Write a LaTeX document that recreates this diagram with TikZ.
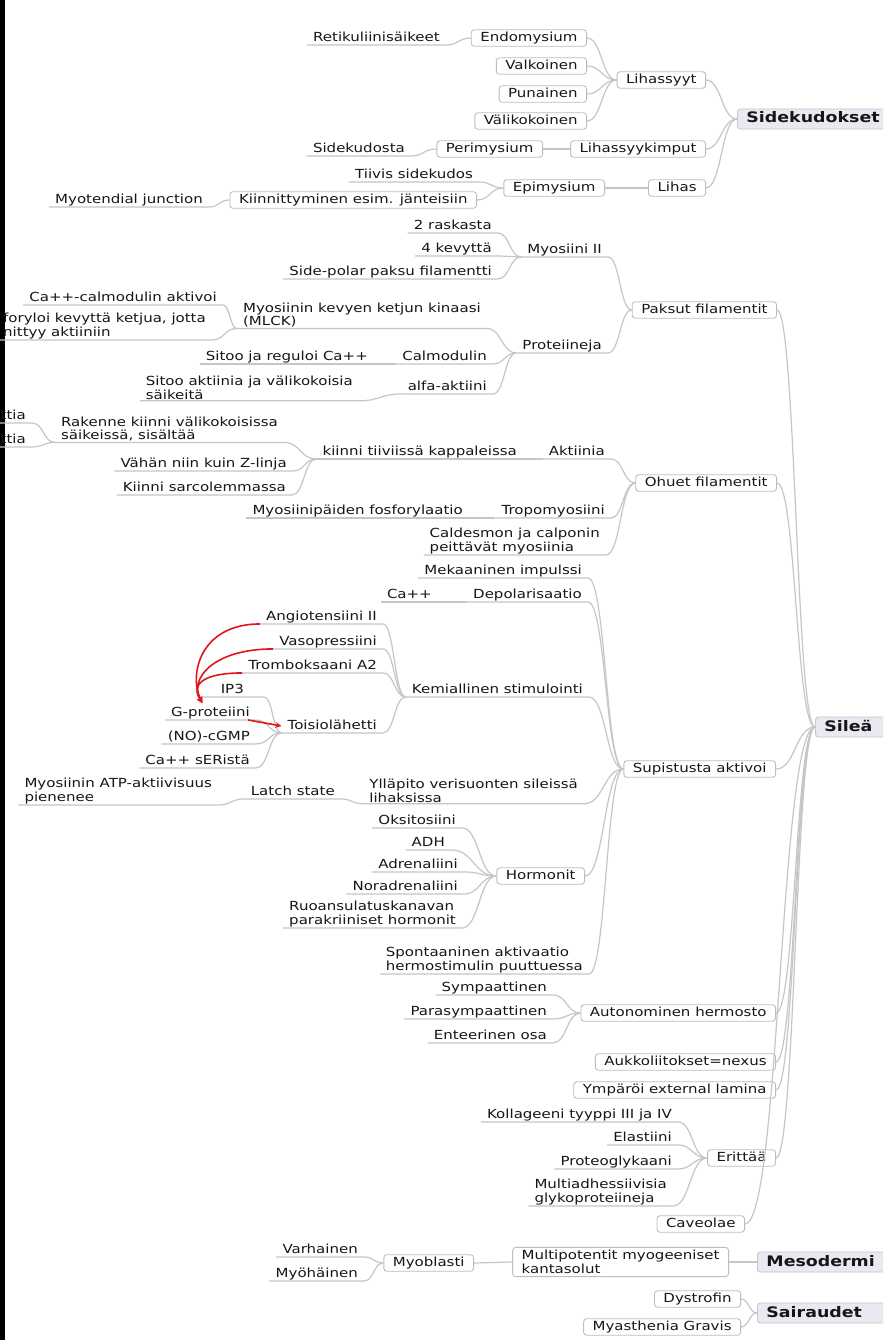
\documentclass[tikz,border=0pt]{standalone}
\usepackage{fontspec}
\setmainfont{DejaVu Sans}[FakeStretch=1.2]
\usepackage{tikz}
\usetikzlibrary{calc}
\definecolor{mmLine}{HTML}{C6C6C6}
\definecolor{mmBorder}{HTML}{BDBDBD}
\definecolor{mmText}{HTML}{161616}
\definecolor{mmRootFill}{HTML}{E9E9F1}
\definecolor{mmRootBorder}{HTML}{C6C6D0}
\definecolor{mmRed}{HTML}{E3141B}
\newcommand{\mmfont}{\fontsize{12.5pt}{13.5pt}\selectfont}
\newcommand{\rootfont}{\fontsize{14.5pt}{15pt}\selectfont\bfseries}
\tikzset{
  mmline/.style={draw=mmLine, line width=1.2pt},
  mmcurve/.style={to path={let \p1=(\tikztostart), \p2=(\tikztotarget) in
      .. controls ({(\x1+\x2)/2},\y1) and ({(\x1+\x2)/2},\y2) .. (\tikztotarget)}},
  mmleaf/.style={font=\mmfont, text=mmText, anchor=east, inner xsep=6pt, inner ysep=1pt,
      text height=9pt, text depth=2.5pt},
  mmleaftwo/.style={font=\mmfont, text=mmText, anchor=east, inner xsep=6pt, inner ysep=1pt, align=left},
  mmbox/.style={mmleaf, draw=mmBorder, fill=white, rounded corners=3pt, line width=0.9pt,
      inner xsep=9pt, inner ysep=2.5pt},
  mmboxtwo/.style={mmleaftwo, draw=mmBorder, fill=white, rounded corners=3pt, line width=0.9pt,
      inner xsep=9pt, inner ysep=3pt},
  mmroot/.style={draw=mmRootBorder, fill=mmRootFill, rounded corners=3pt, line width=0.9pt,
      font=\rootfont, text=mmText, anchor=west, inner xsep=9pt, inner ysep=3pt,
      text height=11pt, text depth=3pt, text width=150pt, align=left},
  redarrow/.style={->, draw=mmRed, line width=1.6pt}
}
\begin{document}
\begin{tikzpicture}[x=1pt, y=-1pt, >=stealth]
  \useasboundingbox (0,0) rectangle (883,1340);
  \clip (0,0) rectangle (883,1340);
  \fill[white] (0,0) rectangle (883,1340);
  \fill[black] (0,0) rectangle (5,1340);
  % ---------- Sidekudokset ----------
  \node[mmroot] (sidek) at (737,119) {Sidekudokset};
  \node[mmbox] (lsyyt) at (706,80) {Lihassyyt};
  \node[mmbox] (endo) at (587,38) {Endomysium};
  \node[mmbox] (valk) at (587,66) {Valkoinen};
  \node[mmbox] (puna) at (587,94) {Punainen};
  \node[mmbox] (vali) at (587,121) {Välikokoinen};
  \node[mmleaf] (retik) at (446,38) {Retikuliinisäikeet};
  \node[mmbox] (kimput) at (706,149) {Lihassyykimput};
  \node[mmbox] (peri) at (543,149) {Perimysium};
  \node[mmleaf] (sidkto) at (411,149) {Sidekudosta};
  \node[mmbox] (lihas) at (706,188) {Lihas};
  \node[mmbox] (epi) at (605,188) {Epimysium};
  \node[mmleaf] (tiivis) at (479,175) {Tiivis sidekudos};
  \node[mmbox] (kiinn) at (477,200) {Kiinnittyminen esim. jänteisiin};
  \node[mmleaf] (myoten) at (209,200) {Myotendial junction};
  \draw[mmline] (retik.south west) -- (retik.south east) to[mmcurve] (endo.west);
  \foreach \c in {endo,valk,puna,vali}
    \draw[mmline] (\c.east) to[mmcurve] (lsyyt.west);
  \foreach \c in {lsyyt,kimput,lihas}
    \draw[mmline] (\c.east) to[mmcurve] (sidek.west);
  \draw[mmline] (sidkto.south west) -- (sidkto.south east) to[mmcurve] (peri.west);
  \draw[mmline] (peri.east) to[mmcurve] (kimput.west);
  \draw[mmline] (tiivis.south west) -- (tiivis.south east) to[mmcurve] (epi.west);
  \draw[mmline] (kiinn.east) to[mmcurve] (epi.west);
  \draw[mmline] (myoten.south west) -- (myoten.south east) to[mmcurve] (kiinn.west);
  \draw[mmline] (epi.east) to[mmcurve] (lihas.west);

  % ---------- Sileä: paksut filamentit ----------
  \node[mmroot] (silea) at (815,727) {Sileä};
  \node[mmbox] (paksut) at (777,310) {Paksut filamentit};
  \node[mmleaf] (myo2) at (608,250) {Myosiini II};
  \node[mmleaf] (rask) at (498,226) {2 raskasta};
  \node[mmleaf] (kevyt) at (498,249) {4 kevyttä};
  \node[mmleaf] (sidepol) at (498,272) {Side-polar paksu filamentti};
  \node[mmleaf] (prot) at (608,346) {Proteiineja};
  \node[mmleaftwo] (mlck) at (487,315) {Myosiinin kevyen ketjun kinaasi\\(MLCK)};
  \node[mmleaf] (cacalm) at (223,298) {Ca++-calmodulin aktivoi};
  \node[mmleaftwo, anchor=west] (fosfor) at (-3,326) {foryloi kevyttä ketjua, jotta\\nittyy aktiiniin};
  \node[mmleaf] (calm) at (493,357) {Calmodulin};
  \node[mmleaf] (sitca) at (374,357) {Sitoo ja reguloi Ca++};
  \node[mmleaf] (alfa) at (493,387) {alfa-aktiini};
  \node[mmleaftwo] (sitakt) at (359,388) {Sitoo aktiinia ja välikokoisia\\säikeitä};
  \foreach \c in {myo2,prot}
    \draw[mmline] (\c.south west) -- (\c.south east) to[mmcurve] (paksut.west);
  \foreach \c in {rask,kevyt,sidepol}
    \draw[mmline] (\c.south west) -- (\c.south east) to[mmcurve] (myo2.south west);
  \foreach \c in {mlck,calm,alfa}
    \draw[mmline] (\c.south west) -- (\c.south east) to[mmcurve] (prot.south west);
  \foreach \c in {cacalm,fosfor}
    \draw[mmline] (\c.south west) -- (\c.south east) to[mmcurve] (mlck.south west);
  \draw[mmline] (sitca.south west) -- (sitca.south east) to[mmcurve] (calm.south west);
  \draw[mmline] (sitakt.south west) -- (sitakt.south east) to[mmcurve] (alfa.south west);

  % ---------- ohuet filamentit ----------
  \node[mmbox] (ohuet) at (777,483) {Ohuet filamentit};
  \node[mmleaf] (aktiin) at (611,452) {Aktiinia};
  \node[mmleaf] (kiinni) at (523,452) {kiinni tiiviissä kappaleissa};
  \node[mmleaftwo] (raken) at (284,429) {Rakenne kiinni välikokoisissa\\säikeissä, sisältää};
  \node[mmleaf] (ttiaA) at (32,416) {ttia};
  \node[mmleaf] (ttiaB) at (32,440) {ttia};
  \node[mmleaf] (zlinja) at (293,464) {Vähän niin kuin Z-linja};
  \node[mmleaf] (sarco) at (292,488) {Kiinni sarcolemmassa};
  \node[mmleaf] (tropo) at (611,511) {Tropomyosiini};
  \node[mmleaf] (fosfo) at (469,511) {Myosiinipäiden fosforylaatio};
  \node[mmleaftwo] (caldes) at (606,541) {Caldesmon ja calponin\\peittävät myosiinia};
  \foreach \c in {aktiin,tropo,caldes}
    \draw[mmline] (\c.south west) -- (\c.south east) to[mmcurve] (ohuet.west);
  \draw[mmline] (kiinni.south west) -- (kiinni.south east) to[mmcurve] (aktiin.south west);
  \foreach \c in {raken,zlinja,sarco}
    \draw[mmline] (\c.south west) -- (\c.south east) to[mmcurve] (kiinni.south west);
  \foreach \c in {ttiaA,ttiaB}
    \draw[mmline] (\c.south west) -- (\c.south east) to[mmcurve] (raken.south west);
  \draw[mmline] (fosfo.south west) -- (fosfo.south east) to[mmcurve] (tropo.south west);

  % ---------- supistusta aktivoi ----------
  \node[mmbox] (supist) at (776,769) {Supistusta aktivoi};
  \node[mmleaf] (mekaan) at (588,571) {Mekaaninen impulssi};
  \node[mmleaf] (depol) at (588,595) {Depolarisaatio};
  \node[mmleaf] (capp) at (438,595) {Ca++};
  \node[mmleaf] (kemial) at (589,690) {Kemiallinen stimulointi};
  \node[mmleaf] (angio) at (383,617) {Angiotensiini II};
  \node[mmleaf] (vaso) at (383,642) {Vasopressiini};
  \node[mmleaf] (tromb) at (383,666) {Tromboksaani A2};
  \node[mmleaf] (toisio) at (383,726) {Toisiolähetti};
  \node[mmleaf, minimum width=63pt] (ip3) at (264,690) {IP3};
  \node[mmleaf] (gprot) at (256,713) {G-proteiini};
  \node[mmleaf] (nocg) at (256,737) {(NO)-cGMP};
  \node[mmleaf] (caser) at (256,761) {Ca++ sERistä};
  \node[mmleaftwo] (yllap) at (584,791) {Ylläpito verisuonten sileissä\\lihaksissa};
  \node[mmleaf] (latch) at (341,792) {Latch state};
  \node[mmleaftwo] (atpakt) at (218,791) {Myosiinin ATP-aktiivisuus\\pienenee};
  \node[mmbox] (hormon) at (585,876) {Hormonit};
  \node[mmleaf] (oksit) at (462,821) {Oksitosiini};
  \node[mmleaf] (adh) at (451,843) {ADH};
  \node[mmleaf] (adren) at (464,865) {Adrenaliini};
  \node[mmleaf] (noradr) at (464,887) {Noradrenaliini};
  \node[mmleaftwo] (ruoan) at (462,914) {Ruoansulatuskanavan\\parakriiniset hormonit};
  \node[mmleaftwo] (spont) at (589,960) {Spontaaninen aktivaatio\\hermostimulin puuttuessa};
  \foreach \c in {mekaan,depol,kemial,yllap,spont}
    \draw[mmline] (\c.south west) -- (\c.south east) to[mmcurve] (supist.west);
  \draw[mmline] (hormon.east) to[mmcurve] (supist.west);
  \draw[mmline] (capp.south west) -- (capp.south east) to[mmcurve] (depol.south west);
  \foreach \c in {angio,vaso,tromb,toisio}
    \draw[mmline] (\c.south west) -- (\c.south east) to[mmcurve] (kemial.south west);
  \foreach \c in {ip3,gprot,nocg,caser}
    \draw[mmline] (\c.south west) -- (\c.south east) to[mmcurve] (toisio.south west);
  \draw[mmline] (latch.south west) -- (latch.south east) to[mmcurve] (yllap.south west);
  \draw[mmline] (atpakt.south west) -- (atpakt.south east) to[mmcurve] (latch.south west);
  \foreach \c in {oksit,adh,adren,noradr,ruoan}
    \draw[mmline] (\c.south west) -- (\c.south east) to[mmcurve] (hormon.west);
  % red links: hormones act through the G-protein
  \coordinate (gtip) at ($(gprot.north)+(-8,-3)$);
  \draw[redarrow] (angio.south west) .. controls +(-60,0) and +(-14,-28) .. (gtip);
  \draw[redarrow] (vaso.south west) .. controls +(-60,0) and +(-14,-24) .. (gtip);
  \draw[redarrow] (tromb.south west) .. controls +(-40,0) and +(-12,-18) .. (gtip);
  \draw[redarrow] ([xshift=-8pt]gprot.south east) -- (toisio.west);

  % ---------- autonominen hermosto, erittää ----------
  \node[mmbox] (auton) at (776,1013) {Autonominen hermosto};
  \node[mmleaf] (symp) at (553,988) {Sympaattinen};
  \node[mmleaf] (parasy) at (553,1012) {Parasympaattinen};
  \node[mmleaf] (enteer) at (553,1036) {Enteerinen osa};
  \node[mmbox] (aukko) at (776,1062) {Aukkoliitokset=nexus};
  \node[mmbox] (ympar) at (776,1090) {Ympäröi external lamina};
  \node[mmbox] (eritt) at (776,1158) {Erittää};
  \node[mmleaf] (kolla) at (678,1115) {Kollageeni tyyppi III ja IV};
  \node[mmleaf] (elast) at (678,1138) {Elastiini};
  \node[mmleaf] (proteo) at (678,1162) {Proteoglykaani};
  \node[mmleaftwo] (multi) at (673,1192) {Multiadhessiivisia\\glykoproteiineja};
  \node[mmbox] (caveo) at (745,1224) {Caveolae};
  \foreach \c in {symp,parasy,enteer}
    \draw[mmline] (\c.south west) -- (\c.south east) to[mmcurve] (auton.west);
  \foreach \c in {kolla,elast,proteo,multi}
    \draw[mmline] (\c.south west) -- (\c.south east) to[mmcurve] (eritt.west);
  \foreach \c in {paksut,ohuet,supist,auton,aukko,ympar,eritt,caveo}
    \draw[mmline] (\c.east) to[mmcurve] (silea.west);

  % ---------- Mesodermi, Sairaudet ----------
  \node[mmroot] (meso) at (757,1262) {Mesodermi};
  \node[mmboxtwo] (multip) at (729,1262) {Multipotentit myogeeniset\\kantasolut};
  \node[mmbox] (myobl) at (474,1263) {Myoblasti};
  \node[mmleaf] (varh) at (364,1250) {Varhainen};
  \node[mmleaf] (myoh) at (364,1274) {Myöhäinen};
  \node[mmroot] (sair) at (757,1313) {Sairaudet};
  \node[mmbox] (dystr) at (741,1299) {Dystrofin};
  \node[mmbox] (myast) at (741,1327) {Myasthenia Gravis};
  \draw[mmline] (multip.east) to[mmcurve] (meso.west);
  \draw[mmline] (myobl.east) to[mmcurve] (multip.west);
  \foreach \c in {varh,myoh}
    \draw[mmline] (\c.south west) -- (\c.south east) to[mmcurve] (myobl.west);
  \foreach \c in {dystr,myast}
    \draw[mmline] (\c.east) to[mmcurve] (sair.west);
\end{tikzpicture}
\end{document}
